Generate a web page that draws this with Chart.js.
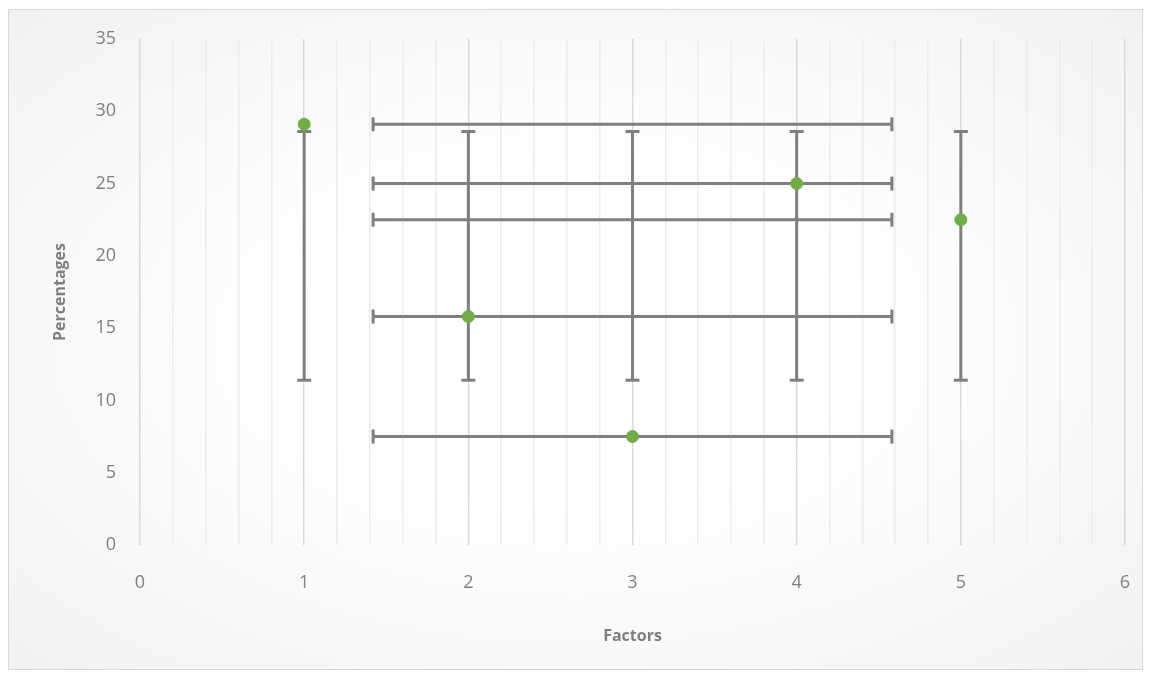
<!DOCTYPE html>
<html>
<head>
<meta charset="utf-8">
<script src="https://cdn.jsdelivr.net/npm/chart.js@4.4.0/dist/chart.umd.min.js"></script>
<style>
  html, body { margin: 0; padding: 0; background: #fff; }
  #wrap { position: relative; width: 1151px; height: 679px; }
  #frame {
    position: absolute; left: 8px; top: 9px; width: 1133px; height: 659px;
    border: 1px solid #d9d9d9;
    background: radial-gradient(ellipse at center, #ffffff 35%, #f2f2f2 100%);
  }
  #chart { position: absolute; left: 0; top: 0; }
</style>
</head>
<body>
<div id="wrap">
  <div id="frame"></div>
  <canvas id="chart" width="1151" height="679"></canvas>
</div>
<script>
// data
const factors = [1, 2, 3, 4, 5];
const percentages = [29.1, 15.8, 7.5, 25, 22.5];
// vertical error bars (y range at each factor)
const yBarLow = [11.4, 11.4, 11.4, 11.4, 11.4];
const yBarHigh = [28.6, 28.6, 28.6, 28.6, 28.6];
// horizontal error bars (x range at each point's y)
const xBarLow = [1.42, 1.42, 1.42, 1.42, 1.42];
const xBarHigh = [4.58, 4.58, 4.58, 4.58, 4.58];

const barColor = '#7f7f7f';
const pointColor = '#70ad47';
const textColor = '#7f7f7f';

const datasets = [];

// points on top
datasets.push({
    label: 'Percentages',
    data: factors.map(function (x, i) { return { x: x, y: percentages[i] }; }),
    backgroundColor: pointColor,
    borderColor: pointColor,
    pointRadius: 6,
    showLine: false,
    order: 0
});

factors.forEach(function (x, i) {
    // vertical bar
    datasets.push({
        data: [{ x: x, y: yBarLow[i] }, { x: x, y: yBarHigh[i] }],
        showLine: true,
        borderColor: barColor,
        borderWidth: 3,
        pointStyle: 'line',
        pointRadius: 7,
        pointBorderWidth: 3,
        pointBorderColor: barColor,
        pointRotation: 0,
        order: 2
    });
    // horizontal bar
    datasets.push({
        data: [{ x: xBarLow[i], y: percentages[i] }, { x: xBarHigh[i], y: percentages[i] }],
        showLine: true,
        borderColor: barColor,
        borderWidth: 3,
        pointStyle: 'line',
        pointRadius: 7,
        pointBorderWidth: 3,
        pointBorderColor: barColor,
        pointRotation: 90,
        order: 1
    });
});

function isMajor(v) {
    return Math.abs(v - Math.round(v)) < 1e-6;
}

new Chart(document.getElementById('chart'), {
    type: 'scatter',
    data: { datasets: datasets },
    options: {
        responsive: false,
        animation: false,
        layout: { padding: { left: 40, right: 26, top: 39, bottom: 20 } },
        plugins: {
            legend: { display: false },
            tooltip: { enabled: false }
        },
        scales: {
            x: {
                type: 'linear',
                min: 0,
                max: 6,
                afterFit: function (scale) {
                    scale.height = 114;
                    scale.paddingLeft = 0;
                    scale.paddingRight = 0;
                },
                border: { display: false },
                grid: {
                    drawTicks: false,
                    lineWidth: 1.5,
                    color: function (ctx) {
                        return isMajor(ctx.tick.value) ? '#d9d9d9' : '#ececec';
                    }
                },
                ticks: {
                    stepSize: 0.2,
                    autoSkip: false,
                    maxRotation: 0,
                    padding: 27,
                    color: textColor,
                    font: { family: 'Open Sans', size: 18 },
                    callback: function (v) {
                        return isMajor(v) ? String(Math.round(v)) : '';
                    }
                },
                title: {
                    display: true,
                    text: 'Factors',
                    color: textColor,
                    font: { family: 'Open Sans', size: 16, weight: 'bold' },
                    padding: { top: 12, bottom: 13 }
                }
            },
            y: {
                min: 0,
                max: 35,
                afterFit: function (scale) { scale.width = 100; },
                border: { display: false },
                grid: { display: false, drawTicks: false },
                ticks: {
                    stepSize: 5,
                    padding: 24,
                    color: textColor,
                    font: { family: 'Open Sans', size: 18 }
                },
                title: {
                    display: true,
                    text: 'Percentages',
                    color: textColor,
                    font: { family: 'Open Sans', size: 16, weight: 'bold' },
                    padding: { top: 11 }
                }
            }
        }
    }
});
</script>
</body>
</html>
